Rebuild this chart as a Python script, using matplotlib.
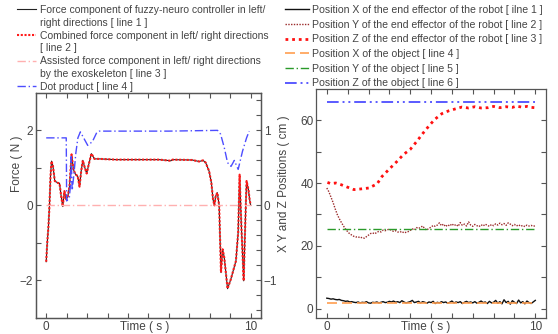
import numpy as np
import matplotlib
matplotlib.use("Agg")
import matplotlib.pyplot as plt
from matplotlib.lines import Line2D

plt.rcParams['font.family'] = ['Liberation Sans', 'DejaVu Sans']

# ---- left panel: force components (N) and dot product ----
t_force = [0.0, 0.05, 0.11, 0.16, 0.21, 0.26, 0.33, 0.42, 0.57, 0.65, 0.73, 0.81, 0.89, 0.98,
           1.06, 1.14, 1.24, 1.33, 1.43, 1.54, 1.63, 1.71, 1.79, 1.89, 1.98, 2.08, 2.21, 2.36,
           2.6, 3.41, 4.23, 5.53, 6.1, 6.18, 7.15, 7.48, 7.67, 7.8, 7.97, 8.08, 8.16, 8.23,
           8.29, 8.37, 8.46, 8.55, 8.63, 8.71, 8.87, 9.03, 9.28, 9.39, 9.46, 9.55, 9.66, 9.72,
           9.8, 9.89, 9.95, 10.0]
force = [-1.5, -1.0, -0.55, 0.0, 0.78, 1.18, 1.05, 0.65, 0.6, 0.59, 0.25, -0.03, 0.38, 0.16,
         0.25, 0.51, 1.36, 0.96, 0.83, 0.78, 0.5, 0.91, 1.2, 1.0, 0.85, 1.09, 1.38, 1.24,
         1.24, 1.22, 1.22, 1.22, 1.19, 1.22, 1.21, 1.17, 1.2, 1.14, 0.91, 0.6, 0.16, 0.0,
         0.25, 0.34, 0.0, -1.79, -1.17, -1.39, -2.22, -1.97, -1.48, -0.72, 0.82, -0.6, -2.01, -0.8,
         0.65, 0.43, 0.16, 0.0]
t_assist = [0.0, 10.0]
assist = [0.0, 0.0]
t_dot = [0.0, 0.98, 1.0, 1.13, 1.19, 1.22, 1.27, 1.35, 1.45, 1.55, 1.67, 1.87, 2.03, 2.26,
         2.47, 2.6, 4.0, 6.0, 8.38, 8.53, 8.71, 8.87, 9.04, 9.2, 9.39, 9.6, 9.8, 9.93]
dot = [0.9, 0.9, 0.06, 0.1, 0.28, 0.65, 0.2, 0.4, 0.7, 0.9, 0.98, 0.88, 0.8, 0.85,
       0.97, 0.99, 0.99, 0.99, 1.0, 0.95, 0.77, 0.57, 0.52, 0.6, 0.48, 0.72, 0.9, 0.99]

# ---- right panel: positions (cm) ----
t_step = np.arange(0, 101) / 10.0
x_robot = [3.3, 3.2, 3.0, 3.1, 2.9, 2.8, 2.9, 2.6, 2.5, 2.3,
           2.4, 2.1, 2.2, 2.0, 1.9, 2.1, 1.8, 2.0, 1.9, 2.2,
           1.8, 1.7, 2.0, 1.9, 2.1, 1.8, 2.0, 2.2, 1.9, 2.0,
           2.3, 2.1, 2.4, 2.0, 2.2, 1.9, 2.5, 2.1, 1.8, 2.0,
           2.2, 2.6, 1.9, 2.1, 2.3, 1.8, 2.2, 2.0, 1.7, 2.1,
           1.9, 2.3, 1.6, 2.0, 1.8, 2.2, 1.9, 2.1, 1.7, 2.0,
           2.4, 1.8, 2.1, 1.9, 2.2, 1.6, 2.0, 2.3, 1.9, 2.1,
           1.8, 2.2, 1.7, 2.0, 2.4, 1.9, 2.1, 1.6, 2.3, 1.8,
           2.0, 2.6, 1.7, 2.2, 1.5, 2.8, 1.9, 2.3, 1.4, 2.5,
           2.0, 1.6, 2.7, 1.8, 2.2, 1.5, 2.4, 1.9, 1.6, 2.1, 2.6]
y_robot = [38.4, 37.2, 35.5, 33.8, 31.8, 30.0, 28.6, 27.4, 26.3, 25.3,
           24.5, 23.8, 23.4, 23.0, 22.8, 22.9, 22.5, 22.7, 22.4, 22.9,
           23.4, 23.9, 24.1, 23.8, 24.3, 24.6, 24.4, 25.0, 24.8, 25.1,
           25.3, 24.9, 24.6, 24.8, 24.4, 24.3, 24.6, 24.1, 24.3, 24.5,
           24.9, 25.4, 25.0, 25.8, 25.5, 25.9, 26.3, 25.4, 25.0, 25.6,
           25.9, 26.5, 26.2, 26.6, 27.3, 26.4, 26.9, 26.1, 26.7, 26.3,
           27.0, 26.4, 26.8, 26.2, 27.4, 26.5, 26.9, 26.3, 27.6, 26.6,
           26.2, 26.8, 26.4, 26.1, 26.7, 26.3, 26.9, 26.5, 26.2, 26.8,
           26.4, 27.0, 26.6, 27.2, 26.7, 27.1, 26.5, 27.3, 26.9, 26.4,
           26.8, 26.3, 26.7, 26.2, 26.5, 26.1, 26.6, 26.3, 26.5, 26.2, 26.4]
t_z = [0.03, 0.19, 0.43, 0.67, 0.98, 1.3, 1.62, 2.01, 2.41, 2.65, 3.05, 3.37, 3.68, 4.0,
       4.32, 4.63, 4.95, 5.2, 5.52, 5.85, 6.16, 6.48, 6.8, 7.1, 7.4, 7.74, 8.0, 8.3, 8.6,
       8.9, 9.1, 9.33, 9.6, 9.8, 9.97]
z_robot = [40.2, 39.8, 40.0, 39.5, 38.7, 37.9, 38.1, 38.4, 39.7, 42.1, 44.8, 46.9, 49.1, 50.7,
           53.3, 56.0, 58.6, 60.4, 62.1, 63.0, 63.6, 64.2, 63.9, 64.3, 63.9, 64.0, 64.4, 64.0, 64.3,
           64.1, 64.5, 64.2, 64.4, 64.1, 64.0]
t_obj = [0.0, 10.0]
x_object = [1.7, 1.7]
y_object = [25.4, 25.4]
z_object = [65.7, 65.7]

label_color = '#444444'
fig = plt.figure(figsize=(5.58, 3.34), dpi=100)

# left axes
ax = fig.add_axes([0.0645, 0.048, 0.403, 0.674])
l1, = ax.plot(t_force, force, color='#222222', lw=0.8)
l2, = ax.plot(t_force, force, color='#ff1a1a', lw=1.5, linestyle=(0, (1, 0.8)))
l3, = ax.plot(t_assist, assist, color='#ffb0b0', lw=1.0, linestyle=(0, (6, 2, 1, 2)))
ax2 = ax.twinx()
l4, = ax2.plot(t_dot, dot, color='#4d4dff', lw=1.0, linestyle=(0, (6, 2, 1, 2)))
ax.set_xlim(-0.5, 10.5)
ax.set_ylim(-3, 3)
ax2.set_ylim(-1.5, 1.5)
ax.set_xticks([0, 10])
ax.set_xticks(np.arange(0, 11, 1), minor=True)
ax.set_yticks([-2, 0, 2])
ax.set_yticks([-1, 1], minor=True)
ax2.set_yticks([-1, 0, 1])
ax2.set_yticks(np.arange(-1.4, 1.5, 0.2), minor=True)
ax.set_xlabel('Time ( s )', color=label_color, fontsize=8.5)
ax.xaxis.set_label_coords(0.482, -0.012)
ax.set_ylabel('Force ( N )', color=label_color, fontsize=8.5)
ax.yaxis.set_label_coords(-0.058, 0.684)

# right axes
bx = fig.add_axes([0.567, 0.048, 0.411, 0.686])
m1, = bx.plot(t_step, x_robot, color='#111111', lw=1.0)
m2, = bx.plot(t_step, y_robot, color='#9b2a2a', lw=1.0, linestyle=(0, (1, 1)))
m3, = bx.plot(t_z, z_robot, color='#ff1010', lw=2.0, linestyle=(0, (1, 1.4)))
m4, = bx.plot(t_obj, x_object, color='#ff9e50', lw=1.2, linestyle=(0, (6, 3)))
m5, = bx.plot(t_obj, y_object, color='#2a9a2a', lw=1.0, linestyle=(0, (6, 2, 1, 2)))
m6, = bx.plot(t_obj, z_object, color='#5a5aff', lw=1.4, linestyle=(0, (6, 2, 1, 2, 1, 2)))
bx.set_xlim(-0.5, 10.5)
bx.set_ylim(-3, 70)
bx.set_xticks([0, 10])
bx.set_xticks(np.arange(0, 11, 1), minor=True)
bx.set_yticks([0, 20, 40, 60])
bx.set_yticks([10, 30, 50], minor=True)
bx.set_xlabel('Time ( s )', color=label_color, fontsize=8.5)
bx.xaxis.set_label_coords(0.475, -0.012)
bx.set_ylabel('X Y and Z Positions ( cm )', color=label_color, fontsize=8.5)
bx.yaxis.set_label_coords(-0.115, 0.585)

for a in (ax, ax2, bx):
    for s in a.spines.values():
        s.set_color('#555555')
        s.set_linewidth(0.9)
    a.tick_params(which='both', direction='in', length=3.5, width=0.8, color='#555555',
                  labelcolor=label_color, labelsize=8.5, pad=2)
ax.tick_params(which='both', top=True, right=False)
ax2.tick_params(which='both', right=True, left=False)
bx.tick_params(which='both', top=True, right=True)

blank = Line2D([], [], linestyle='none')
fig.legend([l1, blank, l2, blank, l3, blank, l4],
           ['Force component of fuzzy-neuro controller in left/',
            'right directions [ line 1 ]',
            'Combined force component in left/ right directions',
            '[ line 2 ]',
            'Assisted force component in left/ right directions',
            'by the exoskeleton [ line 3 ]',
            'Dot product [ line 4 ]'],
           loc='upper left', bbox_to_anchor=(17 / 558, 1 - 5 / 334), frameon=False,
           fontsize=7.45, handlelength=1.85, handletextpad=0.35, labelspacing=0.27,
           borderpad=0, borderaxespad=0, labelcolor=label_color)
fig.legend([m1, m2, m3, m4, m5, m6],
           ['Position X of the end effector of the robot [ ilne 1 ]',
            'Position Y of the end effector of the robot [ line 2 ]',
            'Position Z of the end effector of the robot [ line 3 ]',
            'Position X of the object [ line 4 ]',
            'Position Y of the object [ line 5 ]',
            'Position Z of the object [ line 6 ]'],
           loc='upper left', bbox_to_anchor=(285 / 558, 1 - 5 / 334), frameon=False,
           fontsize=7.6, handlelength=2.3, handletextpad=0.3, labelspacing=0.44,
           borderpad=0, borderaxespad=0, labelcolor=label_color)

fig.savefig('out.png', dpi=100)
